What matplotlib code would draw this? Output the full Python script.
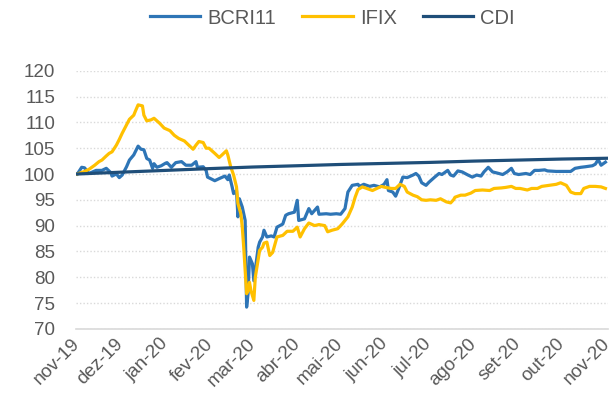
import matplotlib
matplotlib.use("Agg")
import matplotlib.pyplot as plt
import numpy as np
import pandas as pd

plt.rcParams['font.family'] = ['Liberation Sans', 'DejaVu Sans']

# days counted from 2019-11-01
bcri_days = [0, 3, 5, 8, 13, 17, 20, 23, 24, 27, 29, 31, 34, 36, 39, 42, 44, 46, 48, 50,
             52, 53, 55, 58, 61, 62, 65, 68, 72, 75, 79, 82, 83, 87, 89, 90, 95, 98, 102, 104,
             105, 107, 108, 110, 111, 112, 114, 116, 117, 118, 119, 121, 122, 125, 126, 128, 129, 131, 134, 136,
             138, 142, 144, 146, 150, 152, 153, 157, 160, 162, 166, 167, 172, 175, 179, 182, 185, 187, 190, 194,
             195, 198, 202, 205, 209, 212, 214, 215, 218, 220, 222, 225, 228, 232, 234, 236, 238, 241, 243, 247,
             250, 252, 256, 258, 260, 263, 266, 270, 273, 276, 279, 281, 284, 287, 290, 294, 297, 300, 302, 305,
             310, 313, 316, 319, 323, 325, 331, 335, 341, 344, 348, 351, 356, 358, 360, 362, 365]
bcri_vals = [100.0, 101.3, 101.2, 100.1, 100.7, 100.7, 101.1, 100.3, 99.6, 100.0, 99.3, 99.8, 101.4, 102.7, 103.7, 105.4, 104.8, 104.7, 103.0, 102.7,
             101.1, 102.0, 101.3, 101.6, 102.1, 102.2, 101.3, 102.2, 102.4, 101.7, 101.7, 102.4, 101.3, 101.4, 100.7, 99.4, 98.7, 99.1, 99.6, 98.9,
             99.8, 97.5, 96.2, 96.8, 91.7, 95.2, 93.6, 91.0, 74.2, 76.8, 83.9, 82.6, 79.3, 85.8, 86.8, 87.8, 89.1, 87.8, 88.0, 87.8,
             89.7, 90.3, 92.0, 92.3, 92.6, 94.9, 91.0, 91.3, 93.3, 92.3, 93.6, 92.2, 92.3, 92.2, 92.3, 92.2, 93.3, 96.5, 97.8, 98.0,
             97.6, 98.0, 97.6, 97.8, 97.5, 98.0, 98.9, 96.8, 96.5, 95.7, 97.1, 99.4, 99.3, 99.8, 100.1, 99.6, 98.3, 97.8, 98.4, 99.4,
             100.1, 99.9, 100.7, 99.8, 99.6, 100.6, 100.4, 99.8, 99.4, 99.8, 99.6, 100.4, 101.3, 100.4, 100.2, 99.9, 100.4, 101.1, 100.1, 99.9,
             100.1, 99.9, 100.7, 100.7, 100.8, 100.6, 100.5, 100.5, 100.5, 101.1, 101.3, 101.4, 101.6, 101.9, 102.8, 101.7, 102.3]

ifix_days = [0, 5, 8, 12, 15, 17, 20, 22, 24, 27, 29, 31, 34, 36, 39, 40, 42, 45, 46, 48,
             51, 53, 57, 60, 64, 67, 70, 74, 77, 80, 82, 84, 87, 89, 91, 95, 98, 100, 103, 104,
             106, 108, 110, 111, 113, 114, 115, 117, 118, 119, 120, 122, 123, 126, 128, 129, 131, 133, 135, 138,
             142, 145, 149, 152, 154, 157, 160, 164, 167, 171, 173, 176, 180, 183, 187, 190, 192, 194, 197, 200,
             204, 207, 210, 213, 217, 220, 223, 226, 228, 232, 235, 238, 241, 244, 248, 251, 255, 258, 260, 261,
             265, 268, 272, 275, 280, 285, 288, 293, 296, 300, 303, 306, 311, 314, 318, 321, 326, 331, 334, 338,
             341, 344, 348, 350, 354, 358, 362, 365]
ifix_vals = [100.0, 100.5, 100.9, 101.7, 102.4, 102.7, 103.5, 104.0, 104.3, 105.6, 106.7, 107.9, 109.5, 110.6, 111.4, 112.1, 113.4, 113.2, 111.4, 110.3,
             110.5, 110.8, 109.8, 108.9, 108.4, 107.5, 106.9, 106.4, 105.6, 104.8, 105.6, 106.3, 106.1, 105.0, 105.0, 104.0, 103.2, 103.7, 104.5, 103.7,
             101.4, 99.8, 97.5, 94.3, 92.3, 89.7, 85.8, 76.8, 77.4, 79.0, 77.4, 75.5, 80.0, 85.2, 85.8, 86.6, 86.8, 84.2, 84.8, 87.8,
             88.1, 88.9, 88.9, 89.7, 87.8, 89.4, 90.5, 90.0, 90.2, 90.0, 88.8, 89.1, 89.4, 90.3, 91.7, 93.6, 95.5, 97.0, 97.5, 97.2,
             96.8, 97.2, 97.6, 97.4, 97.2, 97.2, 98.0, 97.6, 96.5, 95.9, 95.6, 95.0, 94.9, 95.0, 94.9, 95.2, 94.6, 94.4, 95.0, 95.5,
             95.9, 95.9, 96.3, 96.8, 96.9, 96.8, 97.2, 97.3, 97.4, 97.6, 97.2, 97.2, 96.9, 97.2, 97.2, 97.6, 97.8, 98.0, 98.3, 97.8,
             96.5, 96.2, 96.2, 97.2, 97.6, 97.6, 97.5, 97.2]

cdi_days = [0, 30, 61, 92, 121, 152, 182, 213, 244, 274, 305, 335, 366]
cdi_vals = [100.0, 100.35, 100.7, 101.05, 101.35, 101.6, 101.85, 102.05, 102.25, 102.5, 102.7, 102.9, 103.05]

month_labels = ['nov-19', 'dez-19', 'jan-20', 'fev-20', 'mar-20', 'abr-20', 'mai-20',
                'jun-20', 'jul-20', 'ago-20', 'set-20', 'out-20', 'nov-20']

start = pd.Timestamp('2019-11-01')
to_dates = lambda d: start + pd.to_timedelta(d, unit='D')

fig = plt.figure(figsize=(6.12, 4.0), dpi=100)
ax = fig.add_axes([0.124, 0.178, 0.870, 0.645])

ax.plot(to_dates(bcri_days), bcri_vals, color='#2E75B6', lw=2.3, label='BCRI11')
ax.plot(to_dates(ifix_days), ifix_vals, color='#FFC000', lw=2.3, label='IFIX')
ax.plot(to_dates(cdi_days), cdi_vals, color='#1F4E79', lw=2.3, label='CDI')

ax.set_ylim(70, 120)
ax.set_yticks(np.arange(70, 121, 5))
ticks = pd.date_range('2019-11-01', periods=13, freq='MS')
ax.set_xlim(ticks[0] - pd.Timedelta(days=1), ticks[-1] + pd.Timedelta(days=1))
ax.set_xticks(ticks)
ax.set_xticklabels(month_labels, rotation=45, ha='right', va='center', rotation_mode='anchor')

# dotted light grid, solid base line
ax.grid(axis='y', color='#D9D9D9', ls=(0, (1, 1.5)), lw=1.0)
ax.set_axisbelow(True)
for s in ['top', 'right', 'left']:
    ax.spines[s].set_visible(False)
ax.spines['bottom'].set_color('#D9D9D9')
ax.spines['bottom'].set_linewidth(1.2)
ax.tick_params(axis='y', length=0, pad=15, labelsize=13.5, labelcolor='#595959')
ax.tick_params(axis='x', length=0, pad=9, labelsize=13.5, labelcolor='#595959')

fig.legend(loc='center', bbox_to_anchor=(0.543, 0.955), ncol=3, frameon=False,
           fontsize=14.5, labelcolor='#595959', handlelength=2.5, handletextpad=0.35,
           columnspacing=1.3)

fig.savefig('out.png', dpi=100)
